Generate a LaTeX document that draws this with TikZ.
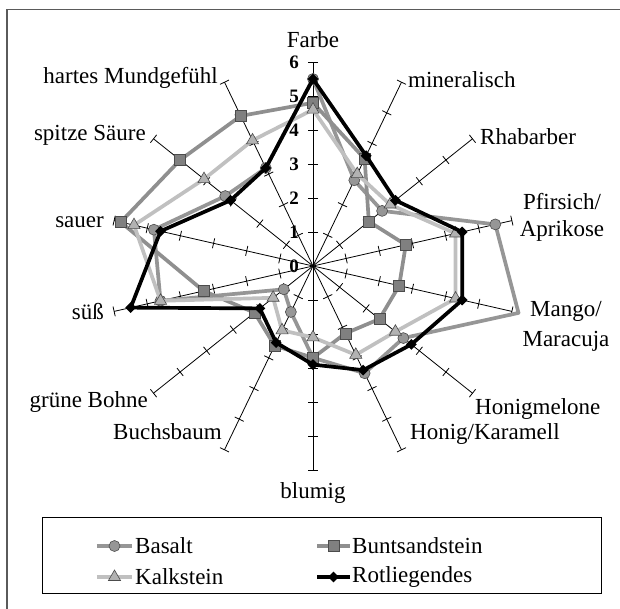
\documentclass[tikz,border=0pt]{standalone}
\usepackage{fontspec}
\setmainfont{Liberation Serif}
\usetikzlibrary{shapes.geometric}
\definecolor{basaltgrey}{HTML}{969696}
\definecolor{buntgrey}{HTML}{8F8F8F}
\definecolor{kalkgrey}{HTML}{C0C0C0}
\definecolor{squaregrey}{HTML}{808080}
\definecolor{trigrey}{HTML}{B2B2B2}
\definecolor{framegrey}{HTML}{5A5A5A}
% one data ring: #1 prefix, #2 values (Farbe clockwise to hartes Mundgefuehl)
\newcommand{\ring}[2]{%
  \foreach \v [count=\k from 0] in {#2}
    \coordinate (#1\k) at ({90-\k*360/14}:{\v*34pt});}

\tikzset{
  spoke/.style={black,line width=0.8pt},
  tickmark/.style={black,line width=0.8pt},
  scalenum/.style={font=\fontsize{19}{19}\selectfont\bfseries,anchor=east,inner sep=0pt},
  axislabel/.style={font=\fontsize{23}{27}\selectfont,inner sep=0pt,align=center},
  legtext/.style={font=\fontsize{23}{27}\selectfont,inner sep=0pt,anchor=west},
  serie/.style={line width=3.7pt,line join=round},
  basaltmark/.style={circle,draw=black!70,fill=basaltgrey,line width=0.6pt,minimum size=11pt,inner sep=0pt},
  buntmark/.style={rectangle,draw=black!70,fill=squaregrey,line width=0.6pt,minimum size=11pt,inner sep=0pt},
  kalkmark/.style={regular polygon,regular polygon sides=3,draw=black!70,fill=trigrey,line width=0.6pt,minimum size=14pt,inner sep=0pt},
  rotmark/.style={diamond,fill=black,minimum size=11pt,inner sep=0pt},
}

\begin{document}
\begin{tikzpicture}
\clip (-313pt,-342pt) rectangle (307pt,266pt);
\draw[framegrey,line width=1.6pt] (-306pt,-360pt) |- (330pt,256.5pt);
\coordinate (o) at (0,0);

% spokes and ticks
\foreach \k in {0,...,13}{
  \coordinate (ax\k) at ({90-\k*360/14}:204pt);
  \draw[spoke] (o) -- (ax\k);
  \begin{scope}[rotate=90-\k*360/14]
    \foreach \r in {1,...,6}
      \draw[tickmark] (\r*34pt,-5pt) -- (\r*34pt,5pt);
  \end{scope}
}
\foreach \r in {0,...,6}
  \node[scalenum] (n\r) at (-14pt,\r*34pt) {\r};

% axis labels
\node[axislabel] (lfarbe) at (0pt,226pt) {Farbe};
\node[axislabel,anchor=west] (lmin) at (95pt,186pt) {mineralisch};
\node[axislabel,anchor=west] (lrha) at (167pt,129pt) {Rhabarber};
\node[axislabel] (lpfi) at (249pt,49pt) {Pfirsich/\\Aprikose};
\node[axislabel,font=\fontsize{23}{30}\selectfont] (lman) at (253pt,-60pt) {Mango/\\Maracuja};
\node[axislabel,anchor=west] (lmel) at (162pt,-143pt) {Honigmelone};
\node[axislabel,anchor=west] (lhon) at (97pt,-168pt) {Honig/Karamell};
\node[axislabel] (lblu) at (0pt,-227pt) {blumig};
\node[axislabel,anchor=east] (lbuc) at (-91pt,-166pt) {Buchsbaum};
\node[axislabel,anchor=east] (lboh) at (-165pt,-136pt) {grüne Bohne};
\node[axislabel,anchor=east] (lsue) at (-209pt,-46pt) {süß};
\node[axislabel,anchor=east] (lsau) at (-209pt,44pt) {sauer};
\node[axislabel,anchor=east] (lspi) at (-167pt,131pt) {spitze Säure};
\node[axislabel,anchor=east] (lhar) at (-95pt,188pt) {hartes Mundgefühl};

% data
\ring{ba}{5.5,2.8,2.6,5.5,6.2,3.4,3.5,2.7,1.5,1.1,4.6,4.8,3.3,3.2}
\ring{bu}{4.8,3.5,2.1,2.8,2.6,2.5,2.2,2.7,2.6,2.2,3.3,5.8,5.0,4.9}
\ring{ka}{4.6,3.0,2.9,4.3,4.3,3.1,2.9,2.1,2.1,1.5,4.6,5.4,4.1,4.1}
\ring{ro}{5.5,3.6,3.1,4.5,4.5,3.7,3.4,2.9,2.5,2.0,5.5,4.6,3.1,3.2}

\draw[serie,basaltgrey] (ba0) \foreach \k in {1,...,13}{ -- (ba\k)} -- cycle;
\foreach \k in {0,...,13}{
  \ifnum\k=4\else\node[basaltmark] (mba\k) at (ba\k) {};\fi}
\draw[serie,buntgrey] (bu0) \foreach \k in {1,...,13}{ -- (bu\k)} -- cycle;
\foreach \k in {0,...,13}
  \node[buntmark] (mbu\k) at (bu\k) {};
\draw[serie,kalkgrey] (ka0) \foreach \k in {1,...,13}{ -- (ka\k)} -- cycle;
\foreach \k in {0,...,13}
  \node[kalkmark] (mka\k) at (ka\k) {};
\draw[serie,black] (ro0) \foreach \k in {1,...,13}{ -- (ro\k)} -- cycle;
\foreach \k in {0,...,13}
  \node[rotmark] (mro\k) at (ro\k) {};

% legend
\draw[black,line width=1pt] (-270pt,-251pt) rectangle (288pt,-327pt);
\draw[serie,basaltgrey] (-216pt,-280pt) -- (-181pt,-280pt);
\node[basaltmark] (kba) at (-198.5pt,-280pt) {};
\node[legtext] (tba) at (-178pt,-280pt) {Basalt};
\draw[serie,buntgrey] (4pt,-280pt) -- (37pt,-280pt);
\node[buntmark] (kbu) at (20.5pt,-280pt) {};
\node[legtext] (tbu) at (39pt,-280pt) {Buntsandstein};
\draw[serie,kalkgrey] (-216pt,-311pt) -- (-181pt,-311pt);
\node[kalkmark] (kka) at (-198.5pt,-311pt) {};
\node[legtext] (tka) at (-178pt,-311pt) {Kalkstein};
\draw[serie,black] (4pt,-311pt) -- (37pt,-311pt);
\node[rotmark] (kro) at (20.5pt,-311pt) {};
\node[legtext] (tro) at (39pt,-311pt) {Rotliegendes};
\end{tikzpicture}
\end{document}
